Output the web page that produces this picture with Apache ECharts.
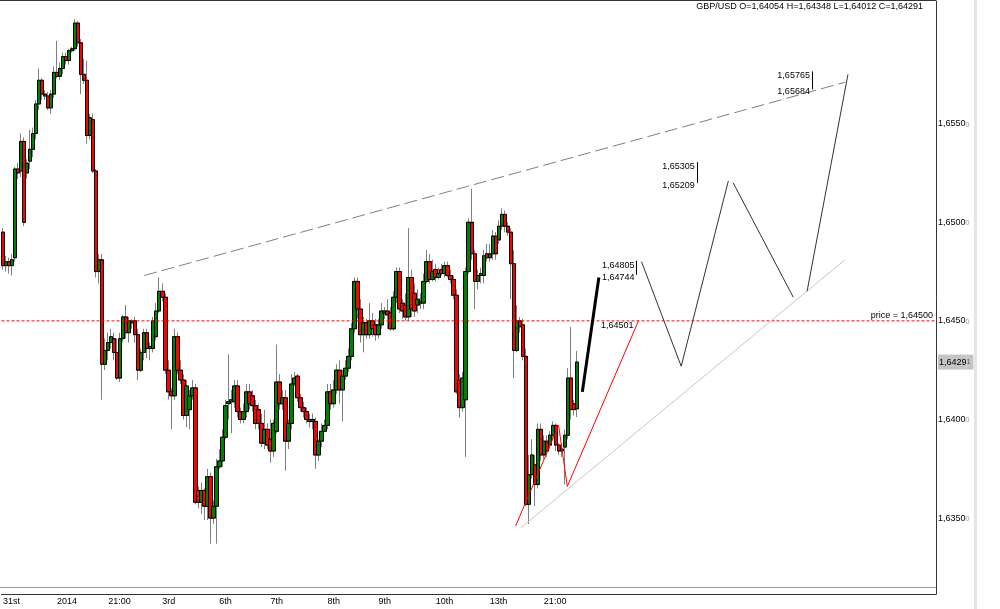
<!DOCTYPE html>
<html><head><meta charset="utf-8">
<script src="https://cdn.jsdelivr.net/npm/echarts@6/dist/echarts.min.js"></script>
<style>html,body{margin:0;padding:0;background:#fff}#c{width:1000px;height:609px}</style>
</head><body><div id="c"></div>
<script>
const symbolName = 'GBP/USD';
const slotCount = 311;
const openP = [1.6495,1.6478,1.6480,1.6478,1.6482,1.6527,1.6526,1.6541,1.6525,1.6531,
1.6537,1.6545,1.6560,1.6572,1.6565,1.6564,1.6558,1.6565,1.6576,1.6574,
1.6578,1.6584,1.6582,1.6587,1.6588,1.6601,1.6591,1.6575,1.6572,1.6544,
1.6552,1.6526,1.6475,1.6481,1.6428,1.6435,1.6439,1.6441,1.6434,1.6421,
1.6441,1.6452,1.6444,1.6449,1.6450,1.6443,1.6425,1.6434,1.6444,1.6436,
1.6436,1.6442,1.6455,1.6465,1.6462,1.6425,1.6414,1.6412,1.6442,1.6425,
1.6420,1.6402,1.6405,1.6412,1.6416,1.6364,1.6358,1.6364,1.6356,1.6371,
1.6350,1.6356,1.6376,1.6379,1.6391,1.6408,1.6409,1.6409,1.6417,1.6404,
1.6400,1.6404,1.6414,1.6412,1.6407,1.6405,1.6398,1.6388,1.6395,1.6390,
1.6384,1.6394,1.6419,1.6408,1.6411,1.6389,1.6398,1.6418,1.6422,1.6411,
1.6406,1.6404,1.6400,1.6399,1.6399,1.6382,1.6389,1.6394,1.6397,1.6414,
1.6408,1.6415,1.6425,1.6415,1.6422,1.6426,1.6432,1.6446,1.6470,1.6456,
1.6443,1.6449,1.6443,1.6450,1.6448,1.6443,1.6448,1.6454,1.6455,1.6454,
1.6446,1.6462,1.6475,1.6459,1.6458,1.6452,1.6472,1.6464,1.6458,1.6459,
1.6459,1.6470,1.6480,1.6471,1.6476,1.6472,1.6476,1.6474,1.6478,1.6473,
1.6471,1.6463,1.6420,1.6406,1.6410,1.6475,1.6500,1.6484,1.6470,1.6473,
1.6473,1.6484,1.6482,1.6484,1.6493,1.6491,1.6498,1.6504,1.6498,1.6495,
1.6479,1.6435,1.6450,1.6448,1.6432,1.6357,1.6372,1.6377,1.6367,1.6395,
1.6382,1.6389,1.6387,1.6392,1.6397,1.6387,1.6384,1.6386,1.6392,1.6421,
1.6408,1.64054];
const closeP = [1.6478,1.6480,1.6478,1.6481,1.6527,1.6525,1.6541,1.6500,1.6530,1.6537,
1.6545,1.6560,1.6572,1.6565,1.6564,1.6558,1.6565,1.6576,1.6574,1.6578,
1.6584,1.6582,1.6587,1.6588,1.6601,1.6591,1.6575,1.6572,1.6544,1.6553,
1.6526,1.6475,1.6481,1.6428,1.6435,1.6439,1.6442,1.6434,1.6421,1.6441,
1.6452,1.6444,1.6450,1.6450,1.6443,1.6425,1.6434,1.6444,1.6436,1.6437,
1.6450,1.6455,1.6465,1.6462,1.6425,1.6414,1.6412,1.6442,1.6425,1.6420,
1.6402,1.6417,1.6412,1.6416,1.6358,1.6358,1.6364,1.6356,1.6371,1.6350,
1.6356,1.6376,1.6379,1.6391,1.6407,1.6409,1.6410,1.6417,1.6404,1.6400,
1.6404,1.6414,1.6408,1.6407,1.6398,1.6398,1.6388,1.6395,1.6387,1.6384,
1.6398,1.6419,1.6408,1.6411,1.6389,1.6398,1.6418,1.6421,1.6411,1.6406,
1.6404,1.6400,1.6399,1.6400,1.6382,1.6389,1.6394,1.6397,1.6414,1.6408,
1.6415,1.6425,1.6415,1.6422,1.6426,1.6432,1.6446,1.6470,1.6456,1.6443,
1.6449,1.6443,1.6450,1.6446,1.6443,1.6448,1.6455,1.6455,1.6453,1.6446,
1.6462,1.6475,1.6456,1.6455,1.6452,1.6472,1.6456,1.6455,1.6461,1.6460,
1.6470,1.6480,1.6471,1.6475,1.6472,1.6474,1.6474,1.6478,1.6473,1.6471,
1.6463,1.6414,1.6406,1.6421,1.6475,1.6500,1.6484,1.6470,1.6473,1.6474,
1.6483,1.6482,1.6484,1.6493,1.6484,1.6498,1.6504,1.6498,1.6495,1.6479,
1.6435,1.6450,1.6447,1.6432,1.6357,1.6372,1.6382,1.6367,1.6395,1.6382,
1.6389,1.6384,1.6392,1.6397,1.6387,1.6384,1.6385,1.6392,1.6421,1.6405,
1.6405,1.64291];
const lowP = [1.6476,1.6475,1.6474,1.6473,1.6480,1.6522,1.6523,1.6498,1.6522,1.6527,
1.6533,1.6542,1.6557,1.6562,1.6562,1.6557,1.6555,1.6563,1.6573,1.6572,
1.6575,1.6580,1.6580,1.6586,1.6587,1.6589,1.6565,1.6570,1.6540,1.6542,
1.6525,1.6472,1.6469,1.6410,1.6425,1.6430,1.6436,1.6430,1.6420,1.6419,
1.6439,1.6441,1.6439,1.6446,1.6439,1.6420,1.6424,1.6430,1.6431,1.6430,
1.6434,1.6440,1.6454,1.6460,1.6423,1.6410,1.6395,1.6410,1.6423,1.6418,
1.6400,1.6396,1.6395,1.6410,1.6357,1.6355,1.6352,1.6349,1.6349,1.6337,
1.6347,1.6337,1.6375,1.6376,1.6390,1.6400,1.6393,1.6406,1.6401,1.6398,
1.6398,1.6401,1.6405,1.6404,1.6395,1.6395,1.6386,1.6385,1.6385,1.6378,
1.6381,1.6393,1.6405,1.6405,1.6374,1.6385,1.6395,1.6417,1.6409,1.6404,
1.6401,1.6398,1.6396,1.6395,1.6375,1.6379,1.6386,1.6394,1.6395,1.6405,
1.6406,1.6413,1.6408,1.6399,1.6420,1.6424,1.6430,1.6444,1.6451,1.6439,
1.6434,1.6441,1.6441,1.6442,1.6440,1.6441,1.6446,1.6451,1.6446,1.6445,
1.6445,1.6459,1.6454,1.6451,1.6450,1.6450,1.6452,1.6452,1.6454,1.6456,
1.6456,1.6469,1.6469,1.6470,1.6470,1.6471,1.6473,1.6472,1.6472,1.6469,
1.6461,1.6413,1.6401,1.6404,1.6381,1.6474,1.6481,1.6456,1.6466,1.6469,
1.6469,1.6480,1.6480,1.6481,1.6481,1.6489,1.6496,1.6495,1.6493,1.6461,
1.6421,1.6434,1.6444,1.6430,1.6356,1.6347,1.6370,1.6356,1.6365,1.6379,
1.6380,1.6381,1.6385,1.6390,1.6384,1.6382,1.6381,1.6367,1.6390,1.6400,
1.6402,1.64012];
const highP = [1.6497,1.6483,1.6482,1.6484,1.6528,1.6530,1.6545,1.6543,1.6532,1.6547,
1.6548,1.6562,1.6578,1.6573,1.6567,1.6566,1.6567,1.6579,1.6592,1.6581,
1.6586,1.6586,1.6588,1.6589,1.6603,1.6602,1.6593,1.6583,1.6582,1.6555,
1.6555,1.6527,1.6484,1.6484,1.6441,1.6444,1.6446,1.6444,1.6441,1.6444,
1.6453,1.6458,1.6452,1.6451,1.6452,1.6446,1.6436,1.6446,1.6446,1.6439,
1.6452,1.6459,1.6472,1.6469,1.6464,1.6430,1.6416,1.6446,1.6444,1.6430,
1.6423,1.6420,1.6415,1.6420,1.6418,1.6366,1.6368,1.6365,1.6375,1.6373,
1.6359,1.6380,1.6385,1.6395,1.6410,1.6433,1.6415,1.6420,1.6420,1.6406,
1.6408,1.6418,1.6418,1.6415,1.6410,1.6408,1.6403,1.6405,1.6398,1.6400,
1.6400,1.6438,1.6423,1.6415,1.6415,1.6400,1.6423,1.6424,1.6423,1.6413,
1.6409,1.6406,1.6403,1.6403,1.6401,1.6390,1.6398,1.6400,1.6418,1.6418,
1.6420,1.6428,1.6430,1.6425,1.6430,1.6436,1.6449,1.6472,1.6472,1.6461,
1.6452,1.6451,1.6459,1.6454,1.6451,1.6451,1.6459,1.6457,1.6461,1.6457,
1.6465,1.6477,1.6477,1.6461,1.6464,1.6497,1.6476,1.6469,1.6466,1.6464,
1.6474,1.6486,1.6484,1.6481,1.6479,1.6477,1.6479,1.6480,1.6480,1.6476,
1.6473,1.6466,1.6423,1.6424,1.6477,1.6502,1.6517,1.6486,1.6476,1.6477,
1.6486,1.6489,1.6489,1.6496,1.6495,1.6501,1.6507,1.6506,1.6500,1.6497,
1.6486,1.6458,1.6452,1.6451,1.6436,1.6382,1.6390,1.6382,1.6398,1.6398,
1.6392,1.6392,1.6394,1.6399,1.6398,1.6388,1.6388,1.6395,1.6426,1.6447,
1.6410,1.64348];
const tickIdx = [0, 18, 35, 53, 72, 89, 108, 125, 144, 162, 180];
const tickText = ['31st', '2014', '21:00', '3rd', '6th', '7th', '8th', '9th', '10th', '13th', '21:00'];
const yTicks = [1.635, 1.640, 1.645, 1.650, 1.655];
const yMin = 1.63115, yMax = 1.66122;
const priceLevel = 1.645;
const projThick = [[192.8, 1.6414], [198.3, 1.6472]];
const projRed = [[170.6, 1.6346], [184.9, 1.6397], [187.8, 1.6366], [211.5, 1.64501]];
const supportLine = [[172.3, 1.6345], [280.2, 1.6481]];
const resistLine = [[47, 1.6473], [280.2, 1.6571]];
const zigA = [[212.5, 1.6480], [225.7, 1.6427], [241.4, 1.6521]];
const zigB = [[243.0, 1.6520], [263.0, 1.6462]];
const zigC = [[267.6, 1.6465], [281.2, 1.6575]];
const rangeNotes = [[210.8, 1.64805, 1.64744], [230.9, 1.65305, 1.65209], [269.2, 1.65765, 1.65684]];
const singleNotes = [[209.8, 1.64501]];

const F = 'Liberation Sans, Arial, sans-serif';
const fmtP = v => v.toFixed(5).replace('.', ',');
const n = openP.length;
const lastO = openP[n-1], lastC = closeP[n-1], lastL = lowP[n-1], lastH = highP[n-1];
const cats = Array.from({length: slotCount}, (_, i) => String(i));
const labelMap = {};
tickIdx.forEach((k, j) => { labelMap[k] = tickText[j]; });
const wickData = openP.map((o, i) => [o, closeP[i], lowP[i], highP[i]]);
const bodyData = openP.map((o, i) => [o, closeP[i], Math.min(o, closeP[i]), Math.max(o, closeP[i])]);
const priceLine = [[-0.5, priceLevel], [slotCount - 0.5, priceLevel]];

const chart = echarts.init(document.getElementById('c'), null, {renderer: 'canvas'});
function lineSeries(data, color, width, type, z) {
  return {type: 'line', xAxisIndex: 1, yAxisIndex: 0, data: data, symbol: 'none', silent: true,
    animation: false, lineStyle: {color: color, width: width, type: type || 'solid'}, z: z || 5};
}
chart.setOption({
  animation: false,
  backgroundColor: '#ffffff',
  title: {text: symbolName + ' O=' + fmtP(lastO) + ' H=' + fmtP(lastH) + ' L=' + fmtP(lastL) + ' C=' + fmtP(lastC),
    right: 77, top: 2, padding: 0,
    textStyle: {fontSize: 9, fontWeight: 'normal', color: '#000', fontFamily: F}},
  grid: {left: 0, right: 64, top: 1, bottom: 15},
  xAxis: [{
    type: 'category', data: cats, boundaryGap: true,
    axisLine: {lineStyle: {color: '#333', width: 1}},
    axisTick: {show: false},
    splitLine: {show: false},
    axisLabel: {interval: 0, formatter: (v, i) => labelMap[i] || '', align: 'left',
      fontSize: 9, color: '#000', fontFamily: F, margin: 3}
  }, {
    type: 'value', min: -0.5, max: slotCount - 0.5, show: false
  }],
  yAxis: [{
    type: 'value', position: 'right', min: yMin, max: yMax,
    axisLine: {show: true, onZero: false, lineStyle: {color: '#333'}},
    axisTick: {show: false},
    splitLine: {show: false},
    axisLabel: {
      customValues: yTicks.concat([lastC]),
      margin: 2, fontFamily: F,
      formatter: v => {
        const s = fmtP(v);
        const main = s.slice(0, -1), tail = s.slice(-1);
        if (Math.abs(v - lastC) < 1e-9) return '{bm|' + main + '}{bs|' + tail + '}';
        return '{m|' + main + '}{s|' + tail + '}';
      },
      rich: {
        m: {fontSize: 9, color: '#000', fontFamily: F},
        s: {fontSize: 7, color: '#999', fontFamily: F, padding: [2, 0, 0, 0]},
        bm: {fontSize: 9, color: '#000', fontFamily: F, backgroundColor: '#c4c4c4', height: 15, lineHeight: 15, padding: [0, 0, 0, 1]},
        bs: {fontSize: 7, color: '#555', fontFamily: F, backgroundColor: '#c4c4c4', height: 15, lineHeight: 15, padding: [0, 3, 0, 0]}
      }
    }
  }],
  graphic: [
    {type: 'line', shape: {x1: 0, y1: 0.5, x2: 936, y2: 0.5}, style: {stroke: '#333', lineWidth: 1}, silent: true},
    {type: 'line', shape: {x1: 0, y1: 587.5, x2: 936, y2: 587.5}, style: {stroke: '#999', lineWidth: 1}, silent: true},
    {type: 'rect', shape: {x: 974, y: 0, width: 3, height: 609}, style: {fill: '#e4e4e4'}, silent: true}
  ],
  series: [
    {type: 'candlestick', name: 'wick', data: wickData, barWidth: 4, silent: true, z: 2,
      itemStyle: {color: '#808080', color0: '#808080', borderColor: '#808080', borderColor0: '#808080', borderWidth: 1}},
    {type: 'candlestick', name: 'body', data: bodyData, barWidth: 4, silent: true, z: 3,
      itemStyle: {color: '#008000', color0: '#ff0000', borderColor: '#000', borderColor0: '#000', borderWidth: 1}},
    Object.assign(lineSeries(priceLine, '#ff0000', 1, [3, 2], 4), {
      endLabel: {show: true, formatter: 'price = ' + fmtP(priceLevel), color: '#000', fontSize: 9, fontFamily: F,
        align: 'right', verticalAlign: 'bottom', offset: [-3, -1], distance: 0}
    }),
    lineSeries(resistLine, '#808080', 1, [13, 5]),
    lineSeries(supportLine, '#c8c8c8', 1),
    lineSeries(projRed, '#ff0000', 1),
    lineSeries(projThick, '#000', 3),
    lineSeries(zigA, '#333', 1),
    lineSeries(zigB, '#333', 1),
    lineSeries(zigC, '#333', 1),
    {type: 'custom', xAxisIndex: 1, yAxisIndex: 0, data: rangeNotes, silent: true, z: 6,
      encode: {x: 0, y: [1, 2]},
      renderItem: (params, api) => {
        const x = api.value(0), hi = api.value(1), lo = api.value(2);
        const a = api.coord([x, hi]), b = api.coord([x, lo]);
        const ts = {fontSize: 9, fontFamily: F, fill: '#000', align: 'right', verticalAlign: 'top'};
        return {type: 'group', children: [
          {type: 'line', shape: {x1: Math.round(a[0]) + 0.5, y1: a[1], x2: Math.round(a[0]) + 0.5, y2: b[1] + 2}, style: {stroke: '#000', lineWidth: 1}},
          {type: 'text', x: a[0] - 2, y: a[1], style: Object.assign({text: fmtP(hi)}, ts)},
          {type: 'text', x: a[0] - 2, y: b[1], style: Object.assign({text: fmtP(lo)}, ts)}
        ]};
      }},
    {type: 'custom', xAxisIndex: 1, yAxisIndex: 0, data: singleNotes, silent: true, z: 6,
      encode: {x: 0, y: 1},
      renderItem: (params, api) => {
        const a = api.coord([api.value(0), api.value(1)]);
        return {type: 'text', x: a[0], y: a[1], style: {text: fmtP(api.value(1)), fontSize: 9, fontFamily: F,
          fill: '#000', align: 'right', verticalAlign: 'top'}};
      }}
  ]
});
</script>
</body></html>
